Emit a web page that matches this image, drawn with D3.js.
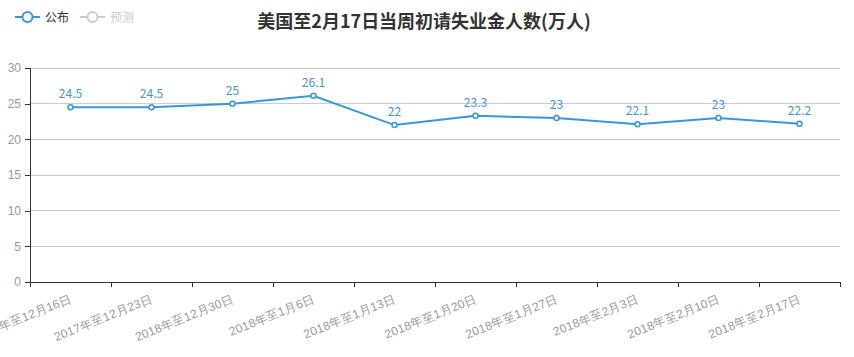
<!DOCTYPE html>
<html><head><meta charset="utf-8">
<script src="https://cdn.jsdelivr.net/npm/d3@7"></script>
<style>
body{margin:0;background:#fff;}
svg{display:block;font-family:"Microsoft YaHei","Noto Sans CJK SC",sans-serif;}
</style></head>
<body><svg id="c" width="854" height="357"></svg>
<script>
const categories = ["2017年至12月16日","2017年至12月23日","2018年至12月30日","2018年至1月6日","2018年至1月13日","2018年至1月20日","2018年至1月27日","2018年至2月3日","2018年至2月10日","2018年至2月17日"];
const values = [24.5,24.5,25,26.1,22,23.3,23,22.1,23,22.2];
const yTicks = [0,5,10,15,20,25,30];
const title = "美国至2月17日当周初请失业金人数(万人)";
const legendItems = ["公布","预测"];

const color = "#3a96db";
const svg = d3.select("#c");
const m = {l:30, r:14, t:68, b:75};
const W = 854, H = 357;
const x = d3.scaleBand().domain(categories).range([m.l, W - m.r]);
const y = d3.scaleLinear().domain([0,30]).range([H - m.b, m.t]);

// grid
svg.append("g").selectAll("line").data(yTicks.filter(d=>d>0)).join("line")
  .attr("x1", m.l).attr("x2", W - m.r)
  .attr("y1", d=>y(d)).attr("y2", d=>y(d))
  .attr("stroke", "#ccc").attr("stroke-width", 1).attr("shape-rendering","crispEdges");

// y axis
const ya = svg.append("g").attr("transform", `translate(${m.l},0)`)
  .call(d3.axisLeft(y).tickValues(yTicks).tickSize(5).tickPadding(4));
ya.select(".domain").attr("stroke", "#333").attr("shape-rendering","crispEdges");
ya.selectAll(".tick line").attr("stroke", "#333").attr("shape-rendering","crispEdges");
ya.selectAll("text").attr("fill", "#999").attr("font-size", 12).style("font-family","inherit");

// x axis
const xa = svg.append("g").attr("transform", `translate(0,${H - m.b})`)
  .call(d3.axisBottom(x).tickSize(0).tickSizeOuter(0));
xa.select(".domain").attr("stroke", "#333").attr("shape-rendering","crispEdges");
const bounds = categories.map(c => x(c)).concat([x(categories[categories.length-1]) + x.bandwidth()]);
xa.append("g").selectAll("line").data(bounds).join("line")
  .attr("x1", d=>d).attr("x2", d=>d).attr("y1", 0).attr("y2", 5)
  .attr("stroke", "#333").attr("shape-rendering","crispEdges");
xa.selectAll(".tick text")
  .attr("fill", "#999").attr("font-size", 12).style("font-family","inherit")
  .attr("text-anchor", "end").attr("dy", null).attr("y", 0)
  .attr("letter-spacing", 0.3)
  .attr("transform", "translate(2,20) rotate(-22)");

// line
const cx = d => x(d) + x.bandwidth()/2;
const line = d3.line().x((d,i)=>cx(categories[i])).y(d=>y(d));
svg.append("path").datum(values).attr("d", line)
  .attr("fill","none").attr("stroke", color).attr("stroke-width", 2);
svg.append("g").selectAll("circle").data(values).join("circle")
  .attr("cx", (d,i)=>cx(categories[i])).attr("cy", d=>y(d)).attr("r", 2.5)
  .attr("fill", "#fff").attr("stroke", color).attr("stroke-width", 1.5);
svg.append("g").selectAll("text").data(values).join("text")
  .attr("x", (d,i)=>cx(categories[i])).attr("y", d=>y(d) - 9)
  .attr("text-anchor","middle").attr("fill", color).attr("font-size", 12)
  .text(d=>d);

// title
svg.append("text").attr("x", 424).attr("y", 28).attr("text-anchor","middle")
  .attr("font-size", 18).attr("font-weight","bold").attr("fill","#333").text(title);

// legend
const lg = svg.append("g");
const lcol = [color, "#ccc"];
const lx = [15, 80];
legendItems.forEach((t,i)=>{
  const g = lg.append("g").attr("transform", `translate(${lx[i]},17)`);
  g.append("line").attr("x1",0).attr("x2",25).attr("y1",0).attr("y2",0).attr("stroke", lcol[i]).attr("stroke-width",2);
  g.append("circle").attr("cx",12.5).attr("cy",0).attr("r",5).attr("fill","#fff").attr("stroke", lcol[i]).attr("stroke-width",2);
  g.append("text").attr("x",30).attr("y",4.5).attr("font-size",12).attr("fill", i===0?"#333":"#ccc").text(t);
});
</script></body></html>
